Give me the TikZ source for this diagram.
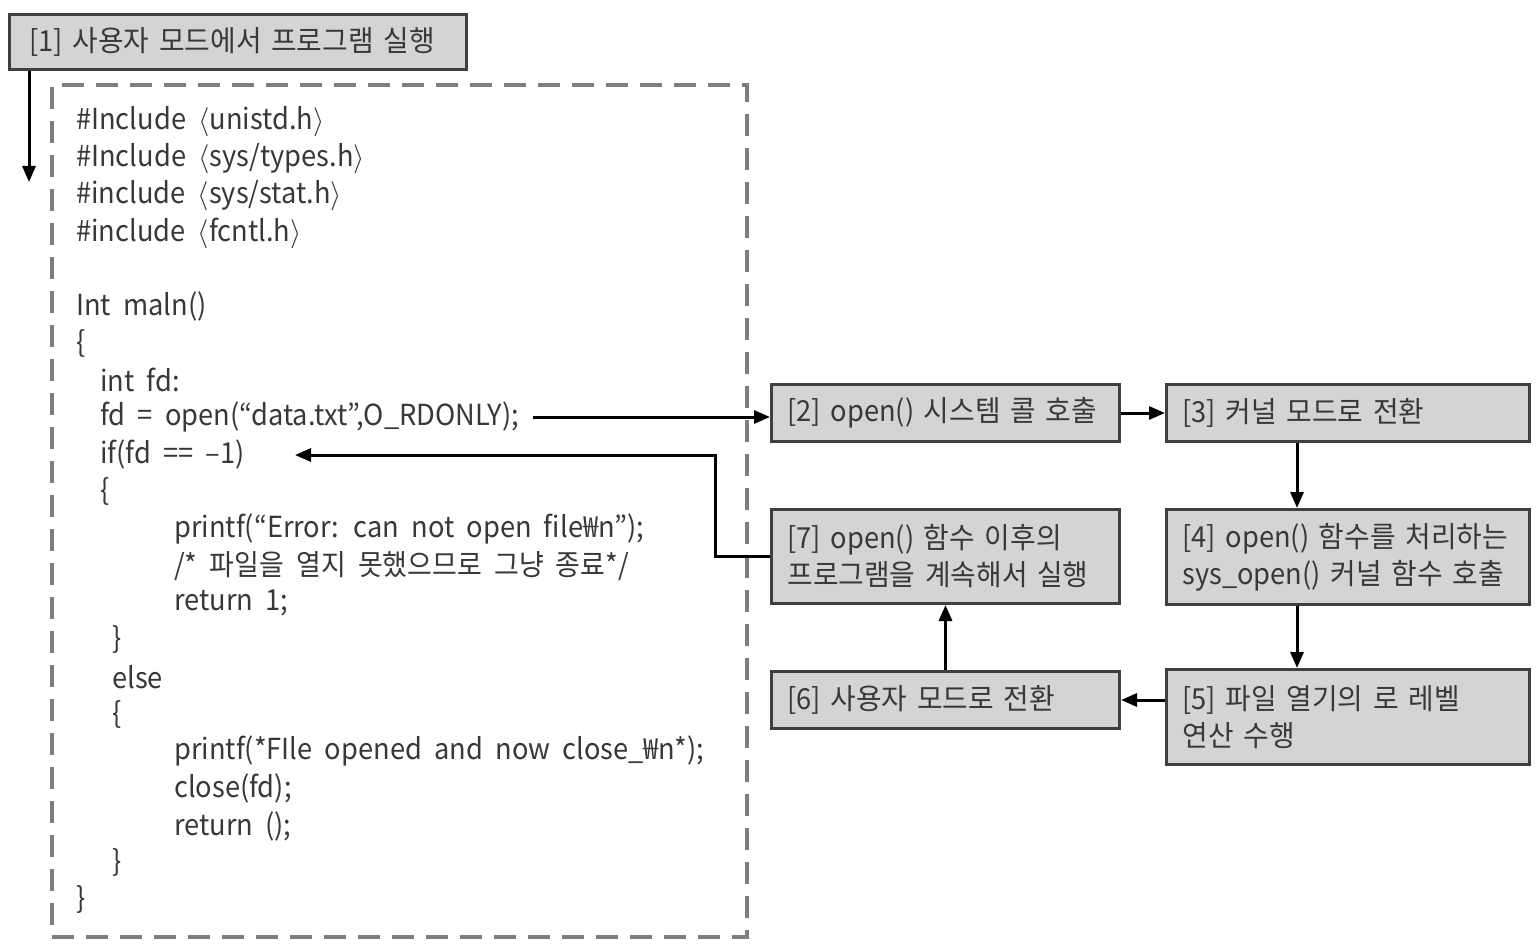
\RequirePackage{fix-cm}
\documentclass[tikz,border=0pt]{standalone}
\usepackage{fontspec}
\setmainfont{Noto Sans CJK KR}[FakeStretch=0.94, WordSpace=2.0]
\newfontfamily\kr{Noto Sans CJK KR}[FakeStretch=0.96, WordSpace=2.8]
\newfontfamily\krc{Noto Sans CJK KR}[FakeStretch=0.93, WordSpace=2.0]
\usetikzlibrary{arrows.meta,calc}
\definecolor{boxfill}{HTML}{D4D4D4}
\definecolor{boxdraw}{HTML}{404040}
\definecolor{txt}{HTML}{383838}
\definecolor{dashc}{HTML}{7E7E7E}
\newcommand{\lab}{\(\langle\)}
\newcommand{\rab}{\(\rangle\)}
\tikzset{
  code/.style={anchor=west, inner sep=0pt, text=txt, font=\fontsize{29}{37}\selectfont},
  box/.style={draw=boxdraw, fill=boxfill, line width=3pt, anchor=north west, align=left,
    inner xsep=16pt, inner ysep=0pt, text=txt, font=\fontsize{29}{37}\selectfont},
  arr/.style={line width=3pt, black, -{Triangle[length=16pt,width=13pt]}},
  dashbox/.style={draw=dashc, line width=4pt, dash pattern=on 22pt off 12pt,
    anchor=north west, inner sep=0pt},
}
\begin{document}
\begin{tikzpicture}[x=1pt,y=-1pt]
\useasboundingbox (0,0) rectangle (1540,944);
% dashed code frame
\node[dashbox, minimum width=695, minimum height=852] (codebox) at (50,83) {};
% box 1
\node[box, inner xsep=20pt, minimum width=457, text width=417, minimum height=55] (b1) at (8,13)
  {[1] {\kr 사용자 모드에서 프로그램 실행}};
% code lines
\node[code] (l0) at (76,122) {\#Include \lab unistd.h\rab};
\node[code] (l1) at (76,159) {\#Include \lab sys/types.h\rab};
\node[code] (l2) at (76,196) {\#include \lab sys/stat.h\rab};
\node[code] (l3) at (76,233) {\#include \lab fcntl.h\rab};
\node[code] (l5) at (76,306) {Int maln()};
\node[code] (l6) at (76,343) {\{};
\node[code] (l7) at (100,380) {int fd:};
\node[code] (l8) at (100,417) {fd = open(“data.txt”,O\_RDONLY);};
\node[code] (l9) at (100,454) {if(fd == –1)};
\node[code] (l10) at (100,491) {\{};
\node[code] (l11) at (174,529) {printf(“Error: can not open file₩n”);};
\node[code] (l12) at (174,566) {/* {\krc 파일을 열지 못했으므로 그냥 종료}*/};
\node[code] (l13) at (174,603) {return 1;};
\node[code] (l14) at (112,639) {\}};
\node[code] (l15) at (112,677) {else};
\node[code] (l16) at (112,714) {\{};
\node[code] (l17) at (174,751) {printf(*FIle opened and now close\_₩n*);};
\node[code] (l18) at (174,788) {close(fd);};
\node[code] (l19) at (174,826) {return ();};
\node[code] (l20) at (112,862) {\}};
\node[code] (l21) at (76,899) {\}};
% flow boxes
\node[box, minimum width=348, text width=316, minimum height=57] (b2) at (770,383)
  {[2] open() {\kr 시스템 콜 호출}};
\node[box, minimum width=363, text width=331, minimum height=57] (b3) at (1165,383)
  {[3] {\kr 커널 모드로 전환}};
\node[box, minimum width=363, text width=331, minimum height=95] (b4) at (1165,508)
  {[4] open() {\kr 함수를 처리하는}\\sys\_open() {\kr 커널 함수 호출}};
\node[box, minimum width=363, text width=331, minimum height=95] (b5) at (1165,668)
  {[5] {\kr 파일 열기의 로 레벨}\\{\kr 연산 수행}};
\node[box, minimum width=348, text width=316, minimum height=57] (b6) at (770,670)
  {[6] {\kr 사용자 모드로 전환}};
\node[box, minimum width=348, text width=316, minimum height=94] (b7) at (770,508)
  {[7] open() {\kr 함수 이후의}\\{\kr 프로그램을 계속해서 실행}};
% connectors
\coordinate (a1end) at (29,182);
\draw[arr] (b1.south -| a1end) -- (a1end);
\draw[arr, shorten <=14pt] (l8.east) -- (l8.east -| b2.west);
\draw[arr] (b2.east) -- (b3.west);
\draw[arr] ([xshift=-51pt]b3.south) -- ([xshift=-51pt]b4.north);
\draw[arr] ([xshift=-51pt]b4.south) -- ([xshift=-51pt]b5.north);
\draw[arr] (b6.east -| b5.west) -- (b6.east);
\draw[arr] (b6.north) -- (b7.south);
\coordinate (elb) at (715,455);
\coordinate (back) at (295,455);
\draw[arr] (b7.west) -- (b7.west -| elb) -- (elb) -- (back);
\end{tikzpicture}
\end{document}
